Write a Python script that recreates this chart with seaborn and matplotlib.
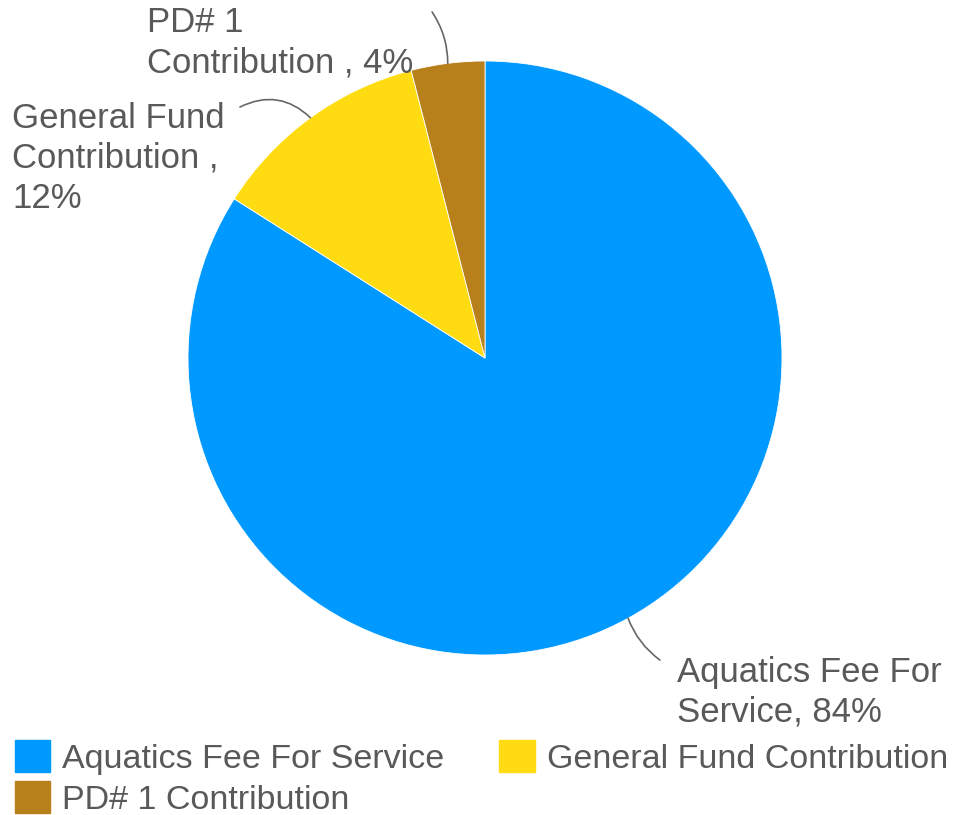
import numpy as np
import matplotlib
matplotlib.use("Agg")
import matplotlib.pyplot as plt
import matplotlib.patches as mpatches
import seaborn as sns

# dati
categorie = ["Aquatics Fee For Service", "General Fund Contribution", "PD# 1 Contribution"]
valori = [84, 12, 4]
etichette = ["Aquatics Fee For\nService, 84%", "General Fund\nContribution ,\n12%", "PD# 1\nContribution , 4%"]
colori = ["#0099FF", "#FFDC12", "#B8801A"]

sns.set_theme(style="white")
plt.rcParams["font.family"] = ["Liberation Sans", "DejaVu Sans"]

fig = plt.figure(figsize=(9.55, 8.15), dpi=100)
# asse del pie: centro (485,358) raggio 297 px
ax = fig.add_axes([188 / 955, 160 / 815, 594 / 955, 594 / 815])

wedges, _ = ax.pie(valori, colors=colori, startangle=90, counterclock=False,
                   radius=1, wedgeprops=dict(linewidth=0.6, edgecolor="white"))
ax.set_xlim(-1, 1)
ax.set_ylim(-1, 1)
ax.set_aspect("equal")
ax.axis("off")

grigio = "#595959"

# posizioni etichette (in coordinate dati del pie)
pos_testo = [(0.646, -1.125), (-1.593, 0.673), (-1.138, 1.062)]
inizio_linea = [(0.589, -1.017), (-0.825, 0.845), (-0.178, 1.165)]
curve = [-0.15, -0.35, -0.15]

for w, lab, pt, pl, rad in zip(wedges, etichette, pos_testo, inizio_linea, curve):
    ang = np.deg2rad((w.theta1 + w.theta2) / 2)
    xy = (np.cos(ang), np.sin(ang))
    ax.annotate("", xy=xy, xytext=pl, annotation_clip=False,
                arrowprops=dict(arrowstyle="-", color="#666666", lw=1.2,
                                connectionstyle=f"arc3,rad={rad}",
                                shrinkA=0, shrinkB=0))
    ax.text(pt[0], pt[1], lab, ha="left", va="center", fontsize=25,
            color=grigio, linespacing=1.27, clip_on=False)

# legenda
handles = [mpatches.Patch(color=c, label=l) for c, l in zip(colori, categorie)]
ordine = [0, 2, 1]
fig.legend([handles[i] for i in ordine], [categorie[i] for i in ordine],
           loc="lower left", bbox_to_anchor=(-0.006, -0.026), ncol=2, frameon=False,
           fontsize=24.5, labelcolor=grigio, handlelength=1.05, handleheight=1.05,
           handletextpad=0.35, columnspacing=1.6, labelspacing=0.2, borderpad=0.3,
           borderaxespad=0.3)

fig.savefig("out.png", dpi=100)
